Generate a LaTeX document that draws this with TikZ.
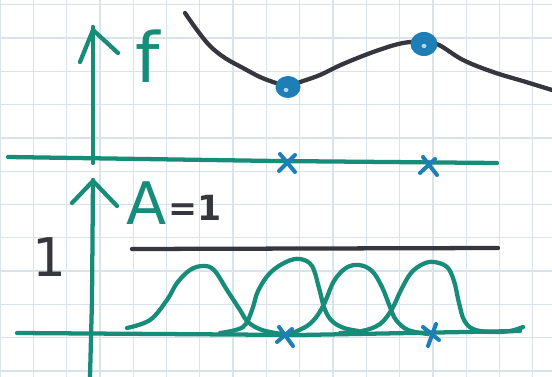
\documentclass[tikz,border=0pt]{standalone}
\usepackage{fontspec}
\setmainfont{DejaVu Sans}
\definecolor{tealink}{HTML}{178C78}
\definecolor{darkink}{HTML}{36363E}
\definecolor{blueink}{HTML}{1E7FB6}
\definecolor{gridc}{HTML}{D9E3EC}
\begin{document}
\begin{tikzpicture}[x=0.75pt,y=-0.75pt,
  ink/.style={line width=3.2pt,line cap=round,line join=round},
  tink/.style={ink,draw=tealink},
  dink/.style={ink,draw=darkink},
  xm/.style={line width=3pt,line cap=round,draw=blueink},
  gridline/.style={draw=gridc,line width=1pt},
  lab/.style={inner sep=0pt,anchor=base west}]
\useasboundingbox (0,0) rectangle (552,377);
\fill[white] (0,0) rectangle (552,377);
% grid paper
\foreach \i in {0,...,16} \draw[gridline] (33.3*\i,0) -- (33.3*\i,377);
\foreach \j in {0,...,11} \draw[gridline] (0,4.7+33.3*\j) -- (552,4.7+33.3*\j);

% ---------- top panel ----------
\coordinate (t0) at (8,157);
\coordinate (t1) at (276,161);
\coordinate (t2) at (497,163);
\draw[tink] (t0) -- (t1) -- (t2);
\coordinate (ty0) at (93,27);
\coordinate (ty1) at (93,163);
\draw[tink] (ty0) -- (ty1);
\coordinate (ta) at (80,62);
\coordinate (tb) at (118,53);
\draw[tink] (ta) -- (93,30) -- (tb);
\node[lab,text=tealink,font=\fontsize{52}{52}\selectfont] (flab) at (135,83) {f};

\draw[dink] plot[smooth,tension=0.6] coordinates {(185,13) (197,30) (210,46) (225,58) (243,68) (260,77) (276,83) (288,86) (303,81) (320,75) (343,64) (376,51) (403,43) (424,42) (439,45) (463,60) (493,72) (526,82) (552,90)};
\fill[blueink] (288,87) ellipse [x radius=12.5,y radius=11];
\fill[blueink!30] (286,90) ellipse [x radius=2.5,y radius=2];
\fill[blueink] (424,44) ellipse [x radius=13.5,y radius=12];
\fill[blueink!30] (424,46) ellipse [x radius=2.5,y radius=2];

\draw[xm,shift={(287,163)}] (-7,-9) -- (8,9) (8,-8) -- (-8,8);
\draw[xm,shift={(428,166)}] (-5,-9) -- (9,9) (7,-7) -- (-8,7);

% ---------- bottom panel ----------
\coordinate (b0) at (17,333);
\coordinate (b1) at (300,335);
\coordinate (b2) at (520,331);
\draw[tink] (b0) -- (b1) -- (b2);
\coordinate (by0) at (93,180);
\coordinate (by1) at (90,377);
\draw[tink] (by0) -- (92,300) -- (by1);
\coordinate (ba) at (72,203);
\coordinate (bb) at (117,206);
\draw[tink] (ba) -- (93,181) -- (bb);

\node[lab,text=tealink,font=\fontsize{44}{44}\selectfont] (alab) at (126,225) {A};
\node[lab,text=darkink,font=\bfseries\fontsize{26}{26}\selectfont] (eqlab) at (168,221) {=1};
\node[lab,text=darkink,font=\fontsize{40}{40}\selectfont] (onelab) at (32,276) {1};

\coordinate (h0) at (132,249);
\coordinate (h1) at (498,248);
\draw[dink] (h0) -- (h1);

\draw[tink] plot[smooth,tension=0.6] coordinates {(127,328) (150,320) (167,300) (177,283) (190,270) (203,266) (214,270) (227,290) (240,310) (248,322) (262,330) (282,334)};
\draw[tink] plot[smooth,tension=0.6] coordinates {(220,333) (243,327) (252,310) (258,291) (270,273) (286,262) (300,259) (312,266) (319,288) (324,307) (331,320) (344,328) (365,332)};
\draw[tink] plot[smooth,tension=0.6] coordinates {(290,334) (307,326) (317,316) (325,302) (334,281) (346,268) (359,265) (372,271) (382,287) (390,307) (396,320) (408,330) (428,334)};
\draw[tink] plot[smooth,tension=0.6] coordinates {(340,333) (362,331) (380,324) (392,309) (401,290) (411,273) (423,264) (434,262) (447,267) (454,281) (459,303) (464,320) (473,329) (490,332) (510,331) (523,327)};

\draw[xm,shift={(285,336)}] (-6,-9) -- (8,10) (7,-7) -- (-8,6);
\draw[xm,shift={(431,334)}] (-8,-7) -- (8,6) (5,-10) -- (-3,12);
\end{tikzpicture}
\end{document}
